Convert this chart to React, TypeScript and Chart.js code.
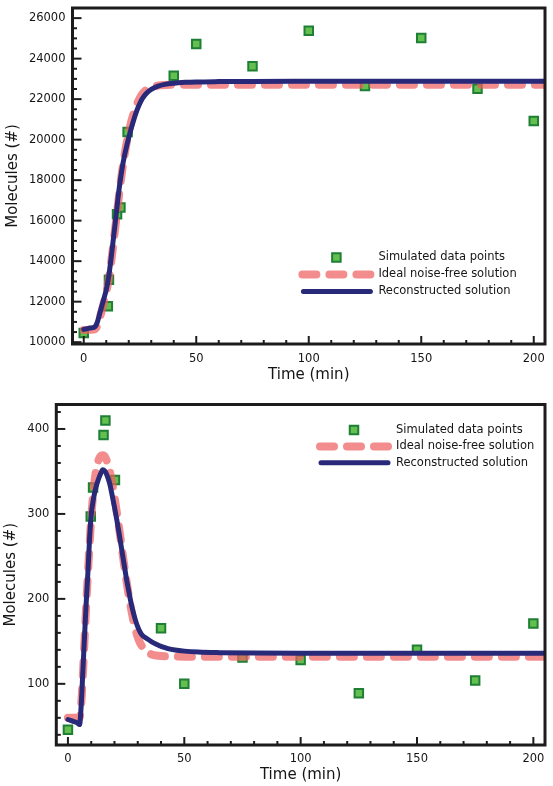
import React, { useEffect, useRef } from 'react';
import { Chart, registerables } from 'chart.js';

Chart.register(...registerables);

// ---------------- data: top panel ----------------
const topSimTime = [0, 10.7, 11.2, 14.8, 16.3, 19.5, 40, 50, 75, 100, 125, 150, 175, 200];
const topSimValue = [10450, 11770, 13080, 16320, 16650, 20380, 23160, 24720, 23620, 25380, 22650, 25020, 22510, 20920];

const topIdealTime = [0, 3, 5, 6, 7, 8, 9, 10, 11, 12, 13, 14, 15, 16, 17, 18, 19, 20, 21, 22, 24, 26, 28, 30, 33, 36, 40, 50, 75, 100, 150, 205];
const topIdealValue = [10600, 10610, 10640, 10800, 11150, 11550, 11980, 12450, 13050, 13800, 14700, 15650, 16600, 17550, 18400, 19150, 19800, 20350, 20850, 21250, 21850, 22250, 22480, 22590, 22670, 22700, 22710, 22710, 22710, 22710, 22710, 22710];

const topReconTime = [0, 2, 4, 5, 6, 7, 8, 9, 10, 11, 12, 13, 14, 15, 16, 17, 18, 19, 20, 21, 22, 23, 24, 26, 28, 30, 33, 36, 40, 45, 50, 60, 75, 100, 150, 205];
const topReconValue = [10630, 10680, 10720, 10760, 10980, 11380, 11780, 12170, 12590, 13170, 14000, 14950, 15900, 16900, 17800, 18550, 19150, 19650, 20100, 20520, 20900, 21250, 21550, 22020, 22300, 22480, 22640, 22730, 22790, 22830, 22850, 22865, 22875, 22880, 22885, 22885];

const topYTicks = [10000, 12000, 14000, 16000, 18000, 20000, 22000, 24000, 26000];

// ---------------- data: bottom panel ----------------
const botSimTime = [0, 9.8, 10.8, 15.3, 16.1, 20.2, 40, 50, 75, 100, 125, 150, 175, 200];
const botSimValue = [46, 297, 331, 393, 410, 340, 165.5, 100, 131, 128, 89, 140, 104, 171];

const botIdealTime = [0, 3, 5, 5.8, 6.5, 7.2, 8, 9, 10, 11, 12, 13, 14, 15, 16, 17, 18, 19, 20, 21, 22, 23, 24, 25, 26, 27, 28, 29, 30, 31, 32, 33, 34, 35, 36, 38, 40, 45, 50, 75, 100, 150, 205];
const botIdealValue = [60, 60, 60, 80, 115, 155, 200, 250, 295, 328, 350, 362, 368, 369, 367, 360, 350, 337, 320, 302, 283, 263, 243, 224, 206, 190, 176, 164, 155, 148, 143.5, 140, 137.5, 135.8, 134.6, 133.3, 132.7, 132.2, 132, 132, 132, 132, 132];

const botReconTime = [0, 2, 4, 5, 5.7, 6.4, 7.1, 7.8, 8.6, 9.3, 10, 11, 12, 13, 14, 15, 16, 17, 18, 19, 20, 21, 22, 23, 24, 25, 26, 27, 28, 29, 30, 31, 32, 34, 36, 38, 40, 43, 46, 50, 56, 65, 80, 100, 150, 205];
const botReconValue = [58, 56, 54, 52, 75, 114, 154, 193, 232, 271, 299, 318, 331, 340, 347, 352, 350, 344, 335, 322, 308, 293, 277, 260, 243, 226, 211, 197, 185, 175, 167, 161, 157, 153, 149.5, 146.5, 144, 141.5, 139.8, 138.5, 137.4, 136.7, 136.2, 136, 136, 136];

const botYTicks = [100, 200, 300, 400];

// ---------------- shared ----------------
const xTicks = [0, 50, 100, 150, 200];
const legendLabels = ['Simulated data points', 'Ideal noise-free solution', 'Reconstructed solution'];
const xTitle = 'Time (min)';
const yTitle = 'Molecules (#)';

const FONT = "'DejaVu Sans', Verdana, sans-serif";
const INK = '#151515';
const FRAME = '#1c1c1c';
const PINK = 'rgba(238, 96, 96, 0.72)';
const NAVY = '#29297a';
const GREEN_FILL = '#63bf4f';
const GREEN_EDGE = '#1f7f35';
const PINK_DASH = [14, 13];

const pairs = (xs: number[], ys: number[]) => xs.map((x, i) => ({ x, y: ys[i] }));

const decorPlugin = {
  id: 'decor',
  afterDatasetsDraw(chart: any, _args: any, o: any) {
    const { ctx, chartArea: a } = chart;
    const xs = chart.scales.x;
    const ys = chart.scales.y;
    ctx.save();
    ctx.strokeStyle = FRAME;
    ctx.lineWidth = 2;
    ctx.lineCap = 'butt';
    const isMajor = (v: number, m: number) => Math.abs(v / m - Math.round(v / m)) < 1e-6;
    for (let v = Math.ceil(xs.min / o.xMinor) * o.xMinor; v <= xs.max + 1e-9; v += o.xMinor) {
      const p = xs.getPixelForValue(v);
      ctx.beginPath();
      ctx.moveTo(p, a.bottom);
      ctx.lineTo(p, a.bottom - (isMajor(v, o.xMajor) ? 8 : 4));
      ctx.stroke();
    }
    for (let v = Math.ceil(ys.min / o.yMinor) * o.yMinor; v <= ys.max + 1e-9; v += o.yMinor) {
      const p = ys.getPixelForValue(v);
      ctx.beginPath();
      ctx.moveTo(a.left, p);
      ctx.lineTo(a.left + (isMajor(v, o.yMajor) ? 9 : 4.5), p);
      ctx.stroke();
    }
    ctx.lineWidth = 3;
    ctx.strokeRect(a.left, a.top, a.right - a.left, a.bottom - a.top);

    // legend
    const lx = a.right - o.legendRight;
    const ly = a.top + o.legendTop;
    const g = o.legendGap;
    const side = 8.5;
    ctx.fillStyle = GREEN_FILL;
    ctx.fillRect(lx - 42 - side / 2, ly - side / 2, side, side);
    ctx.strokeStyle = GREEN_EDGE;
    ctx.lineWidth = 2;
    ctx.strokeRect(lx - 42 - side / 2, ly - side / 2, side, side);
    ctx.strokeStyle = PINK;
    ctx.lineWidth = 8;
    ctx.lineCap = 'round';
    ctx.setLineDash(PINK_DASH);
    ctx.beginPath();
    ctx.moveTo(lx - 76, ly + g);
    ctx.lineTo(lx - 8, ly + g);
    ctx.stroke();
    ctx.setLineDash([]);
    ctx.strokeStyle = NAVY;
    ctx.lineWidth = 5;
    ctx.beginPath();
    ctx.moveTo(lx - 75, ly + 2 * g);
    ctx.lineTo(lx - 8, ly + 2 * g);
    ctx.stroke();
    ctx.fillStyle = INK;
    ctx.font = `11.5px ${FONT}`;
    ctx.textAlign = 'left';
    ctx.textBaseline = 'middle';
    legendLabels.forEach((t, i) => ctx.fillText(t, lx, ly + i * g));
    ctx.restore();
  },
};

type Panel = {
  top: number;
  height: number;
  simT: number[]; simV: number[];
  idealT: number[]; idealV: number[];
  reconT: number[]; reconV: number[];
  yTicks: number[];
  yMin: number; yMax: number;
  yMinor: number; yMajor: number;
  padTop: number; padRight: number;
  yAxisWidth: number; xAxisHeight: number;
  xLabelPad: number; xTitlePad: number; yTitlePad: number;
  legendRight: number; legendTop: number; legendGap: number;
};

function buildConfig(p: Panel): any {
  return {
    type: 'line',
    data: {
      datasets: [
        {
          label: legendLabels[0],
          data: pairs(p.simT, p.simV),
          showLine: false,
          pointStyle: 'rect',
          pointRadius: 6,
          pointBackgroundColor: GREEN_FILL,
          pointBorderColor: GREEN_EDGE,
          pointBorderWidth: 2,
          order: 3,
        },
        {
          label: legendLabels[1],
          data: pairs(p.idealT, p.idealV),
          borderColor: PINK,
          borderWidth: 8,
          borderDash: PINK_DASH,
          borderCapStyle: 'round',
          borderJoinStyle: 'round',
          cubicInterpolationMode: 'monotone',
          pointRadius: 0,
          fill: false,
          order: 2,
        },
        {
          label: legendLabels[2],
          data: pairs(p.reconT, p.reconV),
          borderColor: NAVY,
          borderWidth: 5,
          borderCapStyle: 'round',
          borderJoinStyle: 'round',
          cubicInterpolationMode: 'monotone',
          pointRadius: 0,
          fill: false,
          order: 1,
        },
      ],
    },
    options: {
      responsive: false,
      animation: false,
      devicePixelRatio: 1,
      layout: { padding: { top: p.padTop, right: p.padRight, left: 0, bottom: 0 } },
      plugins: {
        legend: { display: false },
        tooltip: { enabled: false },
        decor: {
          xMinor: 10, xMajor: 50, yMinor: p.yMinor, yMajor: p.yMajor,
          legendRight: p.legendRight, legendTop: p.legendTop, legendGap: p.legendGap,
        },
      },
      scales: {
        x: {
          type: 'linear',
          min: -5,
          max: 205,
          grid: { display: false, drawTicks: false },
          border: { display: false },
          afterBuildTicks: (s: any) => { s.ticks = xTicks.map((v) => ({ value: v })); },
          afterFit: (s: any) => { s.height = p.xAxisHeight; s.paddingLeft = 0; s.paddingRight = 0; },
          ticks: {
            padding: p.xLabelPad,
            color: INK,
            font: { family: FONT, size: 11.5 },
            maxRotation: 0,
            autoSkip: false,
            callback: (v: any) => String(v),
          },
          title: {
            display: true,
            text: xTitle,
            color: INK,
            font: { family: FONT, size: 15 },
            padding: { top: 0, bottom: p.xTitlePad },
          },
        },
        y: {
          type: 'linear',
          min: p.yMin,
          max: p.yMax,
          grid: { display: false, drawTicks: false },
          border: { display: false },
          afterBuildTicks: (s: any) => { s.ticks = p.yTicks.map((v) => ({ value: v })); },
          afterFit: (s: any) => { s.width = p.yAxisWidth; s.paddingTop = 0; s.paddingBottom = 0; },
          ticks: {
            padding: 7,
            color: INK,
            font: { family: FONT, size: 11.5 },
            autoSkip: false,
            callback: (v: any) => String(v),
          },
          title: {
            display: true,
            text: yTitle,
            color: INK,
            font: { family: FONT, size: 15 },
            padding: { top: p.yTitlePad, bottom: 0 },
          },
        },
      },
    },
    plugins: [decorPlugin],
  };
}

const topPanel: Panel = {
  top: 0, height: 393,
  simT: topSimTime, simV: topSimValue,
  idealT: topIdealTime, idealV: topIdealValue,
  reconT: topReconTime, reconV: topReconValue,
  yTicks: topYTicks, yMin: 9910, yMax: 26500, yMinor: 500, yMajor: 2000,
  padTop: 4.5, padRight: 4.7, yAxisWidth: 72.5, xAxisHeight: 49,
  xLabelPad: 8, xTitlePad: 9, yTitlePad: 4.5,
  legendRight: 166.6, legendTop: 249.5, legendGap: 17,
};

const botPanel: Panel = {
  top: 393, height: 393,
  simT: botSimTime, simV: botSimValue,
  idealT: botIdealTime, idealV: botIdealValue,
  reconT: botReconTime, reconV: botReconValue,
  yTicks: botYTicks, yMin: 28, yMax: 428.8, yMinor: 20, yMajor: 100,
  padTop: 11.5, padRight: 5, yAxisWidth: 56.3, xAxisHeight: 41,
  xLabelPad: 7.5, xTitlePad: 1.5, yTitlePad: 2.5,
  legendRight: 149, legendTop: 25.5, legendGap: 16.4,
};

function ChartPanel({ panel }: { panel: Panel }) {
  const ref = useRef<HTMLCanvasElement>(null);
  useEffect(() => {
    const chart = new Chart(ref.current as HTMLCanvasElement, buildConfig(panel));
    return () => chart.destroy();
  }, [panel]);
  return (
    <canvas
      ref={ref}
      width={553}
      height={panel.height}
      style={{ position: 'absolute', left: 0, top: panel.top, width: 553, height: panel.height, display: 'block' }}
    />
  );
}

export default function App() {
  return (
    <div style={{ position: 'absolute', left: 0, top: 0, width: 553, height: 786, background: '#fff', overflow: 'hidden' }}>
      <ChartPanel panel={topPanel} />
      <ChartPanel panel={botPanel} />
    </div>
  );
}
